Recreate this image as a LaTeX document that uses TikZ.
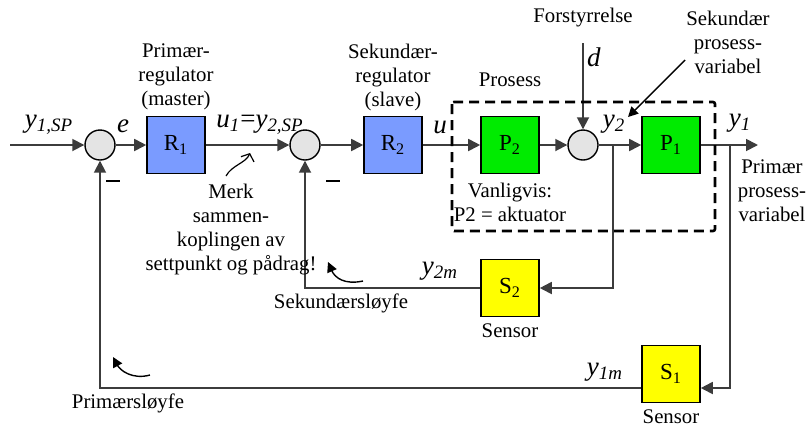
\documentclass[tikz,border=0pt]{standalone}
\usepackage{fontspec}
\setmainfont{Liberation Serif}
\usetikzlibrary{arrows.meta,positioning}
\definecolor{regblue}{RGB}{122,155,255}
\definecolor{procgreen}{RGB}{0,235,0}
\definecolor{sensyellow}{RGB}{255,255,0}
\definecolor{sumgray}{RGB}{228,228,228}
\definecolor{wirecol}{RGB}{60,60,60}
\newcommand{\sigl}[2]{\textit{#1}\textsubscript{\textit{#2}}}
\tikzset{
  block/.style={draw=black, line width=0.8pt, minimum width=29pt, minimum height=28.5pt, inner sep=0pt, font=\fontsize{11.5pt}{12pt}\selectfont},
  reg/.style={block, fill=regblue},
  proc/.style={block, fill=procgreen},
  sens/.style={block, fill=sensyellow},
  sumnode/.style={circle, draw=black, line width=0.7pt, fill=sumgray, minimum size=15pt, inner sep=0pt},
  lbl/.style={align=center, inner sep=0pt},
  siglbl/.style={inner sep=0pt, font=\fontsize{13.5pt}{15pt}\selectfont},
  arrow/.style={-{Triangle[length=6pt,width=6pt]}, line width=0.9pt, draw=wirecol},
  loopar/.style={-{Triangle[length=5pt,width=5pt]}, line width=0.7pt},
  notear/.style={-{Straight Barb[length=3pt,width=7pt]}, line width=0.6pt},
  procframe/.style={dash pattern=on 5pt off 3pt, line width=1.3pt, rounded corners=1pt}
}
\begin{document}
\begin{tikzpicture}[x=0.5pt, y=-0.5pt, font=\fontsize{10.4pt}{12pt}\selectfont]
  \useasboundingbox (0,0) rectangle (809,430);
  \node[sumnode] (sum1) at (100,145) {};
  \node[reg] (r1) at (176,145) {R\textsubscript{1}};
  \node[sumnode] (sum2) at (305,145) {};
  \node[reg] (r2) at (393,145) {R\textsubscript{2}};
  \node[proc] (p2) at (510,145) {P\textsubscript{2}};
  \node[sumnode] (sum3) at (583,145) {};
  \node[proc] (p1) at (671,145) {P\textsubscript{1}};
  \node[sens] (s2) at (510,288) {S\textsubscript{2}};
  \node[sens] (s1) at (671,374) {S\textsubscript{1}};

  \coordinate (in) at (10,145);
  \coordinate (out) at (758,145);
  \coordinate (b2) at (613,145);
  \coordinate (b1) at (730,145);
  \coordinate (dtop) at (583,43);

  \foreach \a/\b in {in/sum1,sum1/r1,r1/sum2,sum2/r2,r2/p2,p2/sum3,sum3/p1,p1/out,dtop/sum3}
    \draw[arrow] (\a) -- (\b);
  \draw[arrow] (b2) |- (s2);
  \draw[arrow] (b1) |- ([yshift=-7pt]s1.east);
  \draw[arrow] (s2) -| (sum2);
  \draw[arrow] ([yshift=-7pt]s1.west) -| (sum1);

  \draw[procframe] (452,102) rectangle (715,231);

  \node[siglbl] (ysp) at (49,125) {\sigl{y}{1,SP}};
  \node[siglbl] (elbl) at (123,126) {\textit{e}};
  \node[siglbl] (u1lbl) at (260,125) {\sigl{u}{1}=\sigl{y}{2,SP}};
  \node[siglbl] (ulbl) at (440,127) {\textit{u}};
  \node[siglbl] (dlbl) at (594,57) {\textit{d}};
  \node[siglbl] (y2lbl) at (614,124) {\sigl{y}{2}};
  \node[siglbl] (y1lbl) at (740,123) {\sigl{y}{1}};
  \node[siglbl] (y2mlbl) at (440,271) {\sigl{y}{2m}};
  \node[siglbl] (y1mlbl) at (605,372) {\sigl{y}{1m}};
  \node[lbl] (m1) at (113,181) {\rule{7pt}{0.9pt}};
  \node[lbl] (m2) at (333,181) {\rule{7pt}{0.9pt}};

  \node[lbl] (forst) at (583,18) {Forstyrrelse};
  \node[lbl] (prosess) at (510,80) {Prosess};
  \node[lbl] (r1txt) at (176,77) {Primær-\\regulator\\(master)};
  \node[lbl] (r2txt) at (393,77) {Sekundær-\\regulator\\(slave)};
  \node[lbl] (spv) at (728,42) {Sekundær\\prosess-\\variabel};
  \node[lbl] (ppv) at (772,191) {Primær\\prosess-\\variabel};
  \node[lbl] (merk) at (231,230) {Merk\\sammen-\\koplingen av\\settpunkt og pådrag!};
  \node[lbl] (vanlig) at (510,202) {Vanligvis:\\P2 = aktuator};
  \node[lbl] (sekloop) at (341,303) {Sekundærsløyfe};
  \node[lbl] (primloop) at (128,403) {Primærsløyfe};
  \node[lbl, below=3pt of s2] (sens2) {Sensor};
  \node[lbl, below=3pt of s1] (sens1) {Sensor};

  \coordinate (merktail) at (226,176);
  \coordinate (merktip) at (250,153);
  \draw[notear] (merktail) .. controls (232,165) and (246,163) .. (merktip);
  \coordinate (sektail) at (363,281);
  \coordinate (sektip) at (328,262);
  \draw[loopar] (sektail) .. controls (345,285) and (335,278) .. (sektip);
  \coordinate (primtail) at (150,375);
  \coordinate (primtip) at (113,357);
  \draw[loopar] (primtail) .. controls (132,380) and (120,370) .. (primtip);
  \coordinate (spvtail) at (685,60);
  \coordinate (spvtip) at (628,117);
  \draw[loopar] (spvtail) -- (spvtip);
\end{tikzpicture}
\end{document}
